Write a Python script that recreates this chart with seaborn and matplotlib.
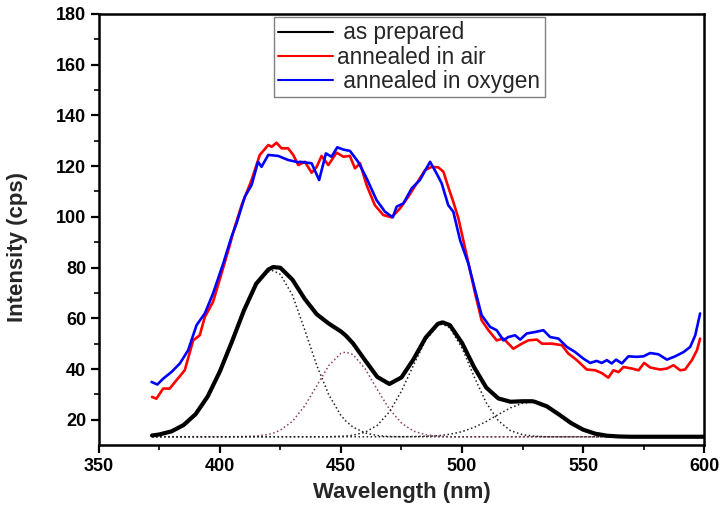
import numpy as np
import pandas as pd
import matplotlib
matplotlib.use("Agg")
import matplotlib.pyplot as plt
import seaborn as sns

# ---- data ----

wl_air = [372.0, 373.8, 376.6, 379.3, 382.1, 385.5, 389.0, 391.7, 393.8, 397.2,
          400.7, 404.1, 406.2, 409.0, 413.1, 416.5, 420.0, 421.4, 423.4, 425.5,
          428.2, 430.3, 432.4, 435.1, 437.9, 440.0, 442.0, 444.8, 448.2, 451.0,
          453.7, 455.8, 457.9, 460.6, 464.0, 467.5, 470.9, 474.4, 477.8, 481.3,
          484.7, 487.5, 490.2, 492.3, 494.3, 496.4, 498.5, 502.0, 505.4, 508.1,
          510.9, 514.3, 517.1, 521.2, 524.7, 527.4, 530.9, 533.0, 537.1, 541.2,
          543.9, 547.4, 551.5, 555.0, 557.7, 560.4, 562.5, 564.6, 566.7, 570.1,
          572.9, 575.2, 577.7, 581.8, 584.6, 587.3, 590.1, 592.1, 594.9, 597.0,
          598.3]
int_air = [29.0, 28.3, 32.3, 32.3, 35.6, 39.5, 51.3, 53.3, 60.5, 66.5,
           77.7, 88.8, 96.1, 104.6, 114.5, 124.4, 128.3, 127.6, 129.2, 127.0,
           127.0, 124.4, 120.4, 121.7, 117.4, 119.7, 124.0, 120.4, 125.3, 123.7,
           124.0, 119.1, 121.1, 112.5, 104.6, 100.7, 99.8, 103.3, 107.9, 113.2,
           118.4, 119.7, 119.5, 117.8, 111.8, 105.9, 99.4, 84.5, 69.8, 59.2,
           55.3, 51.3, 52.0, 48.0, 50.0, 51.3, 51.6, 50.0, 50.0, 49.4,
           46.1, 43.5, 39.8, 39.5, 38.4, 36.6, 39.5, 38.8, 40.8, 40.2,
           39.5, 42.4, 40.6, 39.8, 40.2, 41.5, 39.5, 39.8, 43.5, 47.4,
           52.0]

wl_oxy = [371.8, 374.2, 376.6, 380.0, 383.5, 386.9, 390.4, 393.8, 397.2, 401.4,
          404.8, 406.9, 410.3, 413.1, 415.8, 417.2, 420.0, 424.1, 428.2, 432.4,
          433.1, 437.9, 441.0, 443.8, 446.1, 448.5, 451.0, 453.7, 457.1, 460.6,
          464.7, 468.2, 471.4, 473.0, 475.8, 479.2, 482.6, 486.8, 489.5, 491.6,
          494.3, 496.4, 499.2, 502.6, 505.4, 508.1, 511.6, 514.3, 517.1, 519.1,
          521.9, 524.0, 526.7, 530.2, 533.6, 536.4, 539.8, 543.3, 546.7, 550.1,
          552.9, 555.6, 557.7, 559.8, 561.8, 563.6, 566.0, 568.7, 572.2, 574.9,
          577.7, 581.1, 584.6, 588.0, 591.5, 594.2, 596.3, 598.3]
int_oxy = [34.9, 33.9, 36.2, 38.8, 42.2, 47.4, 57.3, 61.9, 69.8, 81.6,
           92.1, 97.4, 107.9, 112.5, 121.7, 119.7, 124.4, 124.0, 122.4, 121.5,
           121.7, 121.1, 114.5, 125.0, 123.7, 127.4, 126.5, 126.0, 121.7, 115.2,
           106.6, 102.0, 99.8, 104.0, 105.3, 111.2, 114.5, 121.7, 117.1, 113.2,
           104.6, 102.0, 90.8, 81.6, 71.1, 61.2, 56.6, 55.3, 51.3, 52.6,
           53.3, 51.6, 54.0, 54.6, 55.3, 52.6, 52.0, 48.7, 46.7, 44.1,
           42.4, 43.2, 42.4, 43.5, 42.2, 43.7, 42.2, 45.0, 44.8, 45.0,
           46.3, 45.8, 43.7, 45.0, 46.7, 48.7, 53.3, 61.9]

# fitted curve of the as-prepared sample and its four peak components
wl_fit = [372, 375, 380, 385, 390, 395, 400, 405, 410, 415,
          420, 422, 425, 430, 435, 440, 445, 450, 452, 455,
          460, 465, 470, 475, 480, 485, 490, 492, 495, 500,
          505, 510, 515, 520, 525, 529, 530, 535, 540, 545,
          550, 555, 560, 565, 570, 575, 580, 585, 590, 595, 600]
int_prepared = [13.8, 14.2, 15.4, 17.9, 22.2, 29.2, 39.0, 50.8, 63.2, 73.6,
                79.2, 80.2, 79.9, 75.2, 67.7, 61.6, 57.9, 54.8, 53.2, 50.1,
                43.4, 36.9, 34.1, 36.7, 43.9, 52.4, 57.8, 58.4, 57.3, 50.3,
                40.7, 32.7, 28.4, 27.1, 27.3, 27.3, 27.1, 25.3, 22.1, 18.7,
                16.1, 14.5, 13.7, 13.4, 13.3, 13.3, 13.3, 13.3, 13.3, 13.3, 13.3]
peak_1 = [13.8, 14.2, 15.4, 17.9, 22.2, 29.2, 39.0, 50.8, 63.1, 73.3,
          78.3, 78.8, 77.3, 69.1, 55.6, 41.5, 29.8, 21.7, 19.5, 17.1,
          14.8, 13.8, 13.4, 13.3, 13.3, 13.3, 13.3, 13.3, 13.3, 13.3,
          13.3, 13.3, 13.3, 13.3, 13.3, 13.3, 13.3, 13.3, 13.3, 13.3,
          13.3, 13.3, 13.3, 13.3, 13.3, 13.3, 13.3, 13.3, 13.3, 13.3, 13.3]
peak_2 = [13.3, 13.3, 13.3, 13.3, 13.3, 13.3, 13.3, 13.3, 13.4, 13.6,
          14.2, 14.7, 15.9, 19.4, 25.4, 33.4, 41.4, 46.2, 46.7, 45.7,
          40.1, 31.9, 24.2, 18.7, 15.5, 14.1, 13.5, 13.4, 13.3, 13.3,
          13.3, 13.3, 13.3, 13.3, 13.3, 13.3, 13.3, 13.3, 13.3, 13.3,
          13.3, 13.3, 13.3, 13.3, 13.3, 13.3, 13.3, 13.3, 13.3, 13.3, 13.3]
peak_3 = [13.3, 13.3, 13.3, 13.3, 13.3, 13.3, 13.3, 13.3, 13.3, 13.3,
          13.3, 13.3, 13.3, 13.3, 13.3, 13.3, 13.3, 13.5, 13.6, 13.9,
          15.1, 17.8, 23.1, 31.3, 41.6, 51.4, 57.2, 57.7, 56.2, 48.3,
          37.0, 26.7, 19.6, 15.7, 14.1, 13.6, 13.5, 13.3, 13.3, 13.3,
          13.3, 13.3, 13.3, 13.3, 13.3, 13.3, 13.3, 13.3, 13.3, 13.3, 13.3]
peak_4 = [13.3, 13.3, 13.3, 13.3, 13.3, 13.3, 13.3, 13.3, 13.3, 13.3,
          13.3, 13.3, 13.3, 13.3, 13.3, 13.3, 13.3, 13.3, 13.3, 13.3,
          13.3, 13.3, 13.3, 13.3, 13.4, 13.5, 13.7, 13.9, 14.3, 15.3,
          17.0, 19.3, 22.1, 24.7, 26.5, 27.0, 26.9, 25.3, 22.1, 18.7,
          16.1, 14.5, 13.7, 13.4, 13.3, 13.3, 13.3, 13.3, 13.3, 13.3, 13.3]

labels = [" as prepared", "annealed in air", " annealed in oxygen"]

# ---- plot ----

sns.set_style("ticks")
plt.rcParams["font.family"] = ["Liberation Sans", "DejaVu Sans"]

fig = plt.figure(figsize=(7.26, 5.14), dpi=100)
ax = fig.add_axes([0.136, 0.134, 0.834, 0.839])

# component peaks (dotted)
for comp, col in [(peak_1, "#222222"), (peak_2, "#8c3c64"),
                  (peak_3, "#222222"), (peak_4, "#222222")]:
    sns.lineplot(x=wl_fit, y=comp, ax=ax, color=col, lw=1.1,
                 linestyle=":", estimator=None, sort=False)

sns.lineplot(x=wl_fit, y=int_prepared, ax=ax, color="black", lw=3.0,
             estimator=None, sort=False, solid_joinstyle="round")
sns.lineplot(x=wl_air, y=int_air, ax=ax, color="#ff0000", lw=1.9,
             estimator=None, sort=False)
sns.lineplot(x=wl_oxy, y=int_oxy, ax=ax, color="#0000ff", lw=1.9,
             estimator=None, sort=False)

ax.set_xlim(350, 600)
ax.set_ylim(10, 180)
ax.set_xticks([350, 400, 450, 500, 550, 600])
ax.set_xticks([375, 425, 475, 525, 575], minor=True)
ax.set_yticks([20, 40, 60, 80, 100, 120, 140, 160, 180])
ax.set_yticks([30, 50, 70, 90, 110, 130, 150, 170], minor=True)

for s in ax.spines.values():
    s.set_linewidth(1.8)
    s.set_color("black")
ax.tick_params(axis="both", which="major", direction="out", length=6,
               width=1.6, labelsize=13, pad=3, colors="black")
ax.tick_params(axis="both", which="minor", direction="out", length=3.5,
               width=1.4)
ax.tick_params(top=False, right=False, which="both")
for t in ax.get_xticklabels() + ax.get_yticklabels():
    t.set_fontweight("bold")

ax.set_xlabel("Wavelength (nm)", fontsize=16, fontweight="bold", labelpad=5)
ax.set_ylabel("Intensity (cps)", fontsize=16, fontweight="bold")
ax.yaxis.set_label_coords(-0.117, 0.46)

handles = [plt.Line2D([], [], color="black", lw=1.5),
           plt.Line2D([], [], color="#ff0000", lw=1.5),
           plt.Line2D([], [], color="#0000ff", lw=1.5)]
leg = ax.legend(handles, labels, loc="upper left", bbox_to_anchor=(0.289, 0.993),
                borderaxespad=0, fontsize=16.3, handlelength=2.4,
                handletextpad=0.2, labelspacing=0.05, borderpad=0.2,
                fancybox=False, framealpha=1, edgecolor="#808080")
leg.get_frame().set_linewidth(1.0)

fig.savefig("out.png", dpi=100)
